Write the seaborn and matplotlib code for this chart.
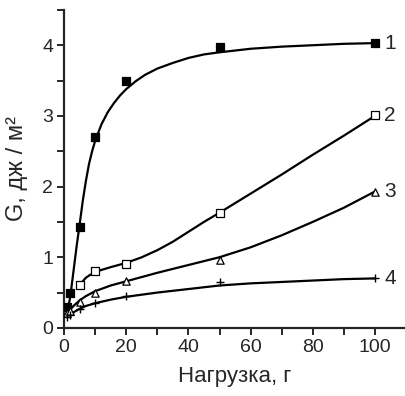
import matplotlib
matplotlib.use("Agg")
import matplotlib.pyplot as plt
import seaborn as sns
from matplotlib.ticker import MultipleLocator
from matplotlib import font_manager

sns.set_style("ticks")
names = {f.name for f in font_manager.fontManager.ttflist}
narrow = "Liberation Sans Narrow" if "Liberation Sans Narrow" in names else "Liberation Sans"
plt.rcParams['font.family'] = ['Liberation Sans', 'DejaVu Sans']

# measured points
x1 = [1, 2, 5, 10, 20, 50, 100]
y1 = [0.30, 0.50, 1.43, 2.70, 3.50, 3.97, 4.03]
x2 = [5, 10, 20, 50, 100]
y2 = [0.60, 0.80, 0.90, 1.63, 3.01]
x3 = [1, 2, 5, 10, 20, 50, 100]
y3 = [0.21, 0.24, 0.36, 0.50, 0.67, 0.96, 1.93]
x4 = [1, 2, 5, 10, 20, 50, 100]
y4 = [0.15, 0.18, 0.27, 0.35, 0.45, 0.65, 0.70]

# fitted curves
cx1 = [1, 2, 3, 4, 5, 6, 7, 8, 9, 10, 12, 14, 16, 18, 20, 23, 26, 30, 35, 40, 45, 50, 60, 70, 80, 90, 100]
cy1 = [0.20, 0.45, 0.80, 1.15, 1.47, 1.80, 2.08, 2.32, 2.50, 2.65, 2.88, 3.05, 3.18, 3.29, 3.38, 3.49, 3.58, 3.67, 3.75, 3.82, 3.87, 3.90, 3.95, 3.98, 4.00, 4.02, 4.03]
cx2 = [5, 6, 7, 8, 10, 12, 15, 20, 25, 30, 35, 40, 45, 50, 60, 70, 80, 90, 100]
cy2 = [0.60, 0.66, 0.71, 0.74, 0.79, 0.82, 0.86, 0.92, 1.00, 1.10, 1.22, 1.36, 1.50, 1.63, 1.90, 2.17, 2.45, 2.72, 3.00]
cx3 = [1, 2, 3, 5, 7, 10, 15, 20, 30, 40, 50, 60, 70, 80, 90, 100]
cy3 = [0.20, 0.26, 0.31, 0.39, 0.45, 0.52, 0.60, 0.66, 0.78, 0.89, 1.00, 1.14, 1.31, 1.50, 1.70, 1.93]
cx4 = [1, 2, 3, 5, 7, 10, 15, 20, 30, 40, 50, 60, 70, 80, 90, 100]
cy4 = [0.15, 0.19, 0.22, 0.27, 0.31, 0.35, 0.40, 0.44, 0.50, 0.55, 0.60, 0.63, 0.65, 0.67, 0.69, 0.70]

labels = ["1", "2", "3", "4"]
markers = ["s", "s", "^", "+"]
facecolors = ["black", "white", "white", "black"]
msizes = [28, 26, 28, 40]

fig = plt.figure(figsize=(4.06, 3.96), dpi=100)
ax = fig.add_axes([0.158, 0.172, 0.842, 0.803])

pts = [(x1, y1), (x2, y2), (x3, y3), (x4, y4)]
crv = [(cx1, cy1), (cx2, cy2), (cx3, cy3), (cx4, cy4)]
for i in range(4):
    sns.lineplot(x=crv[i][0], y=crv[i][1], ax=ax, color="black", lw=1.6)
    sns.scatterplot(x=pts[i][0], y=pts[i][1], ax=ax, marker=markers[i],
                    facecolor=facecolors[i], edgecolor="black",
                    linewidth=0.9 if markers[i] != "+" else 1.0,
                    color="black", s=msizes[i], zorder=3)
    ax.text(103, crv[i][1][-1], labels[i], fontsize=15, va="center", ha="left",
            family=[narrow, 'DejaVu Sans'])

ax.set_xlim(0, 110)
ax.set_ylim(0, 4.5)
ax.xaxis.set_major_locator(MultipleLocator(20))
ax.xaxis.set_minor_locator(MultipleLocator(10))
ax.yaxis.set_major_locator(MultipleLocator(1))
ax.yaxis.set_minor_locator(MultipleLocator(0.5))
ax.tick_params(which="both", direction="out", length=5, width=1.4, labelsize=14, pad=3)
for lab in ax.get_xticklabels() + ax.get_yticklabels():
    lab.set_family([narrow, 'DejaVu Sans'])
for s in ["top", "right"]:
    ax.spines[s].set_visible(False)
for s in ["left", "bottom"]:
    ax.spines[s].set_linewidth(1.6)

ax.set_xlabel("Нагрузка, г", fontsize=16, family=[narrow, 'DejaVu Sans'], labelpad=7)
ax.set_ylabel("G, дж / м²", fontsize=17, labelpad=10)

fig.savefig("out.png", dpi=100)
